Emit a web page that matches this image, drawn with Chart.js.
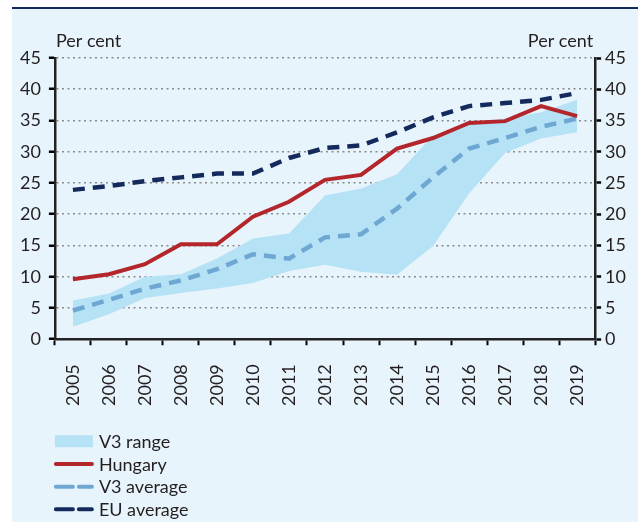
<!DOCTYPE html>
<html>
<head>
<meta charset="utf-8">
<script src="https://cdn.jsdelivr.net/npm/chart.js@4.4.0/dist/chart.umd.min.js"></script>
<style>
  body { margin: 0; background: #fff; }
  #panel { position: absolute; left: 12px; top: 7px; width: 626px; height: 515px; background: #e8f4fb; border-top: 2.5px solid #14295b; box-sizing: border-box; }
  #wrap { position: absolute; left: 0; top: 0; width: 638px; height: 522px; }
</style>
</head>
<body>
<div id="panel"></div>
<div id="wrap"><canvas id="myChart"></canvas></div>
<script>
// Data
const years = ['2005', '2006', '2007', '2008', '2009', '2010', '2011', '2012', '2013', '2014', '2015', '2016', '2017', '2018', '2019'];
const hungary = [9.6, 10.4, 12.0, 15.2, 15.2, 19.6, 22.0, 25.5, 26.3, 30.5, 32.2, 34.6, 34.9, 37.3, 35.7];
const v3Average = [4.6, 6.3, 8.1, 9.4, 11.2, 13.6, 12.9, 16.3, 16.8, 20.9, 25.9, 30.5, 32.2, 34.0, 35.3];
const euAverage = [23.9, 24.5, 25.3, 25.9, 26.5, 26.5, 29.0, 30.6, 31.0, 33.1, 35.5, 37.3, 37.8, 38.3, 39.4];
const v3RangeLow = [2.0, 4.0, 6.6, 7.4, 8.1, 9.0, 10.9, 11.9, 10.8, 10.3, 14.9, 23.3, 29.8, 32.1, 33.1];
const v3RangeHigh = [6.2, 7.3, 10.0, 10.4, 12.9, 16.1, 16.9, 23.0, 24.1, 26.4, 32.6, 34.5, 35.3, 36.3, 38.3];
const yMin = 0;
const yMax = 45;
const yStep = 5;
const unitLabel = 'Per cent';
const legendLabels = ['V3 range', 'Hungary', 'V3 average', 'EU average'];

const textColor = '#231f20';
const redColor = '#b3262b';
const v3Color = '#6ea7d2';
const euColor = '#142a5c';
const rangeColor = '#b6e2f5';
const fontName = 'Lato';

// "Per cent" labels and the legend under the chart
const extras = {
  id: 'extras',
  afterDraw(chart) {
    const ctx = chart.ctx;
    const area = chart.chartArea;
    ctx.save();
    ctx.font = '18px ' + fontName;
    ctx.fillStyle = textColor;
    ctx.textBaseline = 'alphabetic';
    ctx.textAlign = 'left';
    ctx.fillText(unitLabel, area.left + 1, area.top - 11);
    ctx.textAlign = 'right';
    ctx.fillText(unitLabel, area.right - 2, area.top - 11);

    // legend
    const x0 = area.left;
    const top = area.bottom + 102;
    const rowH = 22.7;
    ctx.textAlign = 'left';
    ctx.textBaseline = 'middle';
    for (let i = 0; i < legendLabels.length; i++) {
      const y = top + i * rowH;
      if (i == 0) {
        ctx.fillStyle = rangeColor;
        ctx.fillRect(x0, y - 6, 38, 12);
      } else {
        ctx.beginPath();
        ctx.lineWidth = 4;
        ctx.lineCap = 'round';
        ctx.strokeStyle = [redColor, v3Color, euColor][i - 1];
        ctx.setLineDash(i == 1 ? [] : [17, 6]);
        ctx.moveTo(x0 + 1, y);
        ctx.lineTo(x0 + 37, y);
        ctx.stroke();
      }
      ctx.setLineDash([]);
      ctx.fillStyle = textColor;
      ctx.fillText(legendLabels[i], x0 + 44, y + 1);
    }
    ctx.restore();
  }
};

Chart.defaults.font.family = fontName;
Chart.defaults.font.size = 18;
Chart.defaults.color = textColor;

var ctx = document.getElementById('myChart');

var myChart = new Chart(ctx, {
  type: 'line',
  data: {
    labels: years,
    datasets: [
      { label: 'Hungary', data: hungary, borderColor: redColor, borderWidth: 4, fill: false },
      { label: 'V3 average', data: v3Average, borderColor: v3Color, borderWidth: 4.5, borderDash: [12, 8], fill: false },
      { label: 'EU average', data: euAverage, borderColor: euColor, borderWidth: 4.5, borderDash: [12, 8], fill: false },
      { label: 'V3 range low', data: v3RangeLow, borderWidth: 0, borderColor: 'rgba(0,0,0,0)', fill: false },
      { label: 'V3 range', data: v3RangeHigh, borderWidth: 0, borderColor: 'rgba(0,0,0,0)', backgroundColor: rangeColor, fill: '-1' }
    ]
  },
  options: {
    responsive: true,
    maintainAspectRatio: false,
    animation: false,
    layout: { padding: { top: 58, right: 8, bottom: 97, left: 12 } },
    elements: { point: { radius: 0 }, line: { tension: 0 } },
    plugins: { legend: { display: false }, tooltip: { enabled: false } },
    scales: {
      x: {
        offset: true,
        grid: { offset: true, drawOnChartArea: false, tickLength: 6, tickColor: '#000', tickWidth: 2 },
        border: { color: '#222', width: 2.5 },
        ticks: { minRotation: 90, maxRotation: 90, padding: 19, autoSkip: false }
      },
      y: {
        position: 'left',
        min: yMin, max: yMax,
        grid: { color: '#8a8a8a', lineWidth: 1.5, tickLength: 6, tickColor: '#000', tickWidth: 2.5 },
        border: { color: '#222', width: 2.5, dash: [2, 3.5] },
        ticks: { stepSize: yStep, padding: 8 }
      },
      y2: {
        position: 'right',
        min: yMin, max: yMax,
        grid: { drawOnChartArea: false, tickLength: 6, tickColor: '#000', tickWidth: 2.5 },
        border: { color: '#222', width: 2.5 },
        ticks: { stepSize: yStep, padding: 4 }
      }
    }
  },
  plugins: [extras]
});
</script>
</body>
</html>
